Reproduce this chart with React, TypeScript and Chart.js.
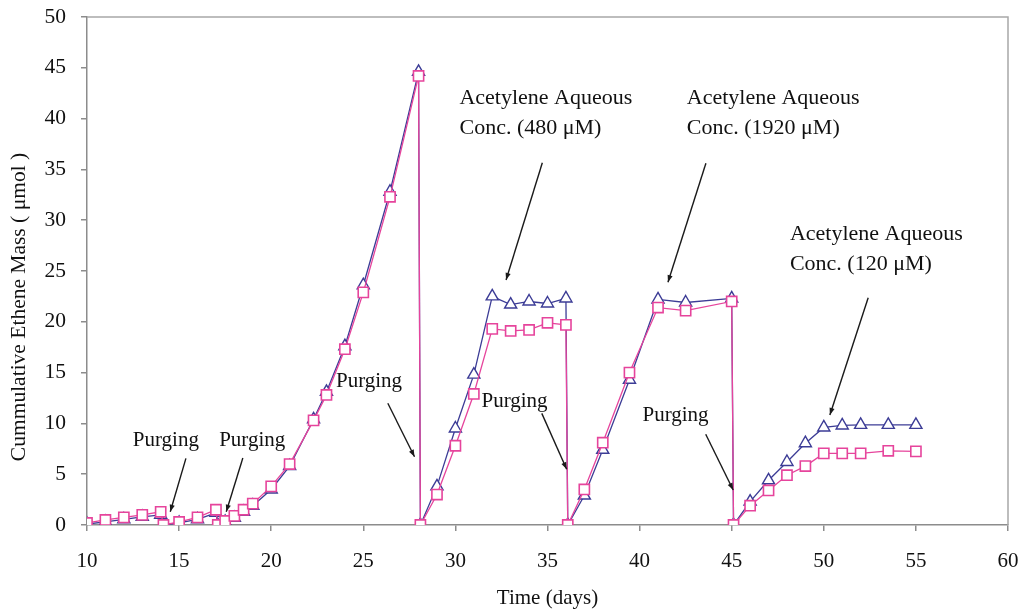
import React, { useEffect, useRef } from "react";
import { Chart, registerables } from "chart.js";

Chart.register(...registerables);

// Time (days)
const days = [
  10, 11, 12, 13, 14, 14.15, 15, 16, 17, 17.1, 17.5, 18, 18.5, 19, 20, 21,
  22.3, 23, 24, 25, 26.45, 28, 28.1, 29, 30, 31, 32, 33, 34, 35, 36, 36.1,
  37, 38, 39.45, 41, 42.5, 45, 45.1, 46, 47, 48, 49, 50, 51, 52, 53.5, 55,
];

// Triangle series (blue)
const triangleSeries = [
  0.1, 0.3, 0.55, 0.8, 1.0, 0, 0.2, 0.55, 1.2, 0, 0.3, 0.7, 1.3, 1.9, 3.5, 5.8,
  10.4, 13.1, 17.6, 23.6, 32.8, 44.6, 0, 3.8, 9.5, 14.8, 22.5, 21.7, 22.0, 21.8, 22.3, 0,
  2.9, 7.4, 14.3, 22.2, 21.9, 22.3, 0, 2.3, 4.4, 6.2, 8.05, 9.6, 9.8, 9.85, 9.85, 9.85,
];

// Square series (pink)
const squareSeries = [
  0.2, 0.5, 0.75, 1.0, 1.3, 0, 0.3, 0.75, 1.5, 0, 0.4, 0.9, 1.5, 2.1, 3.8, 6.0,
  10.3, 12.8, 17.3, 22.9, 32.3, 44.2, 0, 3.0, 7.8, 12.9, 19.3, 19.1, 19.2, 19.9, 19.7, 0,
  3.5, 8.1, 15.0, 21.4, 21.1, 22.0, 0, 1.9, 3.4, 4.9, 5.8, 7.05, 7.05, 7.05, 7.3, 7.25,
];

const xRange = [10, 60];
const yRange = [0, 50];
const xStep = 5;
const yStep = 5;

const xTitle = "Time (days)";
const yTitle = "Cummulative Ethene Mass ( \u03bcmol )";

// Annotations in data coordinates
const annotationTexts = [
  ["Purging"],
  ["Purging"],
  ["Purging"],
  ["Purging"],
  ["Purging"],
  ["Acetylene Aqueous", "Conc. (480 \u03bcM)"],
  ["Acetylene Aqueous", "Conc. (1920 \u03bcM)"],
  ["Acetylene Aqueous", "Conc. (120 \u03bcM)"],
];
const annotationAnchors = [
  { x: 14.28, y: 8.3, align: "center", size: 21 },
  { x: 18.97, y: 8.3, align: "center", size: 21 },
  { x: 25.31, y: 14.1, align: "center", size: 21 },
  { x: 33.21, y: 12.14, align: "center", size: 21 },
  { x: 41.95, y: 10.76, align: "center", size: 21 },
  { x: 30.22, y: 42.0, align: "left", size: 22 },
  { x: 42.56, y: 42.0, align: "left", size: 22 },
  { x: 48.16, y: 28.61, align: "left", size: 22 },
];
const arrowFrom = [
  [15.37, 6.56],
  [18.46, 6.59],
  [26.33, 11.98],
  [34.69, 10.99],
  [43.59, 8.93],
  [34.72, 35.66],
  [43.6, 35.6],
  [52.41, 22.37],
];
const arrowTo = [
  [14.52, 1.31],
  [17.56, 1.31],
  [27.78, 6.72],
  [36.04, 5.48],
  [45.08, 3.44],
  [32.75, 24.11],
  [41.54, 23.9],
  [50.33, 10.83],
];

const FONT = "'Liberation Serif', 'Times New Roman', serif";
const BLUE = "#3c3c96";
const PINK = "#e6449c";
const AXIS = "#8c8c8c";
const TEXT = "#111111";

const overlayPlugin = {
  id: "overlay",
  afterDraw(chart: any) {
    const { ctx, chartArea, scales } = chart;
    const xs = scales.x;
    const ys = scales.y;
    ctx.save();
    // box top and right border
    ctx.strokeStyle = "#a8a8a8";
    ctx.lineWidth = 1.5;
    ctx.beginPath();
    ctx.moveTo(chartArea.left, chartArea.top);
    ctx.lineTo(chartArea.right, chartArea.top);
    ctx.lineTo(chartArea.right, chartArea.bottom);
    ctx.stroke();

    // annotations
    ctx.fillStyle = TEXT;
    ctx.textBaseline = "middle";
    annotationTexts.forEach((lines, i) => {
      const a = annotationAnchors[i];
      const px = xs.getPixelForValue(a.x);
      const py = ys.getPixelForValue(a.y);
      ctx.font = `${a.size}px ${FONT}`;
      ctx.textAlign = a.align;
      ctx.fillStyle = TEXT;
      lines.forEach((ln, j) => {
        ctx.fillText(ln, px, py + j * 30);
      });
      const fx = xs.getPixelForValue(arrowFrom[i][0]);
      const fy = ys.getPixelForValue(arrowFrom[i][1]);
      const tx = xs.getPixelForValue(arrowTo[i][0]);
      const ty = ys.getPixelForValue(arrowTo[i][1]);
      ctx.strokeStyle = "#1a1a1a";
      ctx.lineWidth = 1.4;
      ctx.beginPath();
      ctx.moveTo(fx, fy);
      ctx.lineTo(tx, ty);
      ctx.stroke();
      const ang = Math.atan2(ty - fy, tx - fx);
      const L = 7;
      const W = 2.6;
      ctx.beginPath();
      ctx.moveTo(tx, ty);
      ctx.lineTo(tx - L * Math.cos(ang) + W * Math.sin(ang), ty - L * Math.sin(ang) - W * Math.cos(ang));
      ctx.lineTo(tx - L * Math.cos(ang) - W * Math.sin(ang), ty - L * Math.sin(ang) + W * Math.cos(ang));
      ctx.closePath();
      ctx.fillStyle = "#1a1a1a";
      ctx.fill();
    });

    // axis titles
    ctx.font = `21px ${FONT}`;
    ctx.textAlign = "center";
    ctx.textBaseline = "middle";
    ctx.fillStyle = TEXT;
    ctx.fillText(xTitle, (chartArea.left + chartArea.right) / 2, 598);
    ctx.save();
    ctx.translate(19, 307);
    ctx.rotate(-Math.PI / 2);
    ctx.font = `21.5px ${FONT}`;
    ctx.fillText(yTitle, 0, 0);
    ctx.restore();
    ctx.restore();
  },
};

export default function App() {
  const ref = useRef<HTMLCanvasElement | null>(null);
  useEffect(() => {
    if (!ref.current) return;
    const mk = (ys: number[]) => days.map((d, i) => ({ x: d, y: ys[i] }));
    const chart = new Chart(ref.current, {
      type: "line",
      data: {
        datasets: [
          {
            label: "square",
            data: mk(squareSeries),
            borderColor: PINK,
            backgroundColor: "#ffffff",
            pointBackgroundColor: "#ffffff",
            pointBorderColor: PINK,
            pointStyle: "rect",
            pointRadius: 7.2,
            pointBorderWidth: 1.6,
            borderWidth: 1.3,
            tension: 0,
          },
          {
            label: "triangle",
            data: mk(triangleSeries),
            borderColor: BLUE,
            backgroundColor: "#ffffff",
            pointBackgroundColor: "#ffffff",
            pointBorderColor: BLUE,
            pointStyle: "triangle",
            pointRadius: 7,
            pointBorderWidth: 1.4,
            borderWidth: 1.3,
            tension: 0,
          },
        ],
      },
      options: {
        animation: false,
        responsive: false,
        maintainAspectRatio: false,
        layout: { padding: { top: 17, right: 13, left: 0, bottom: 0 } },
        plugins: { legend: { display: false }, tooltip: { enabled: false } },
        scales: {
          x: {
            type: "linear",
            min: xRange[0],
            max: xRange[1],
            ticks: { stepSize: xStep, font: { family: FONT, size: 21 }, color: TEXT, padding: 18 },
            grid: { drawOnChartArea: false, drawTicks: true, tickLength: 6, color: AXIS, lineWidth: 1.5 },
            border: { color: AXIS, width: 1.5 },
            afterFit: (s: any) => {
              s.height = 85;
              s.paddingLeft = 0;
              s.paddingRight = 0;
            },
          },
          y: {
            type: "linear",
            min: yRange[0],
            max: yRange[1],
            ticks: { stepSize: yStep, font: { family: FONT, size: 21.5 }, color: TEXT, padding: 15 },
            grid: { drawOnChartArea: false, drawTicks: true, tickLength: 6, color: AXIS, lineWidth: 1.5 },
            border: { color: AXIS, width: 1.5 },
            afterFit: (s: any) => {
              s.width = 87;
              s.paddingTop = 0;
              s.paddingBottom = 0;
            },
          },
        },
      },
      plugins: [overlayPlugin],
    });
    return () => chart.destroy();
  }, []);
  return (
    <div style={{ position: "fixed", left: 0, top: 0, width: 1021, height: 610, background: "#fff" }}>
      <canvas ref={ref} width={1021} height={610} />
    </div>
  );
}
